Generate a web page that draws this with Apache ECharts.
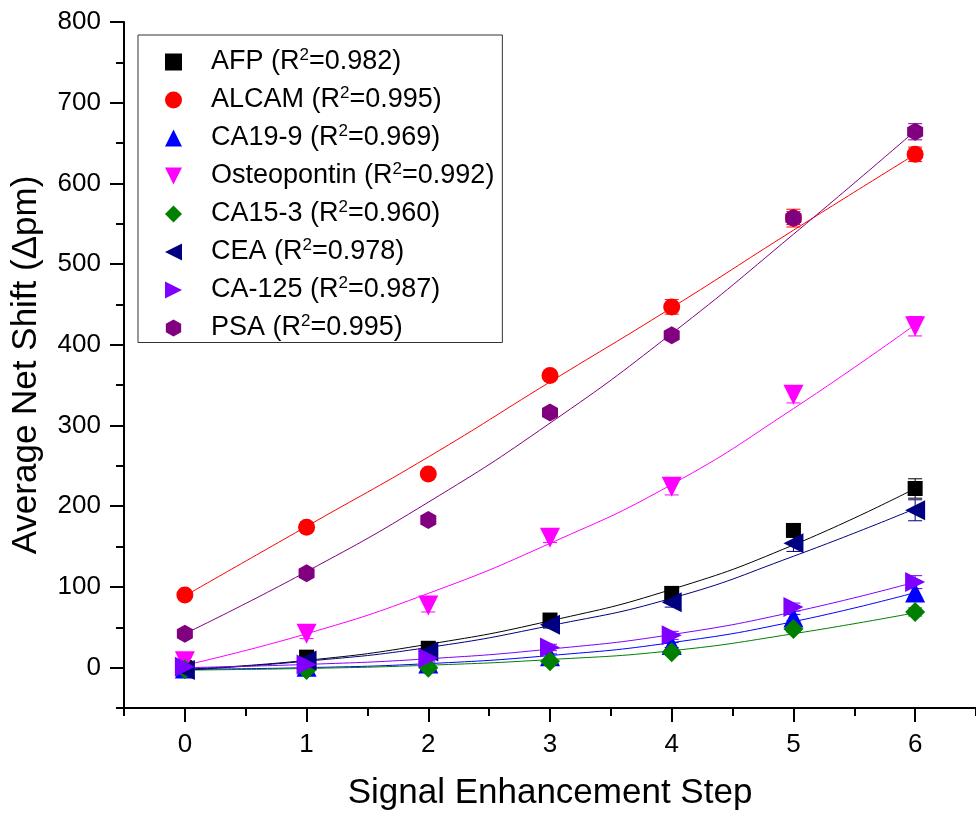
<!DOCTYPE html>
<html>
<head>
<meta charset="utf-8">
<script src="https://cdn.jsdelivr.net/npm/echarts@6/dist/echarts.min.js"></script>
<style>
  html, body { margin: 0; padding: 0; background: #ffffff; }
  #chart { width: 976px; height: 820px; }
</style>
</head>
<body>
<div id="chart"></div>
<script>
const FONT = "Liberation Sans, Arial, sans-serif";

// signal enhancement steps (x)
const steps = [0, 1, 2, 3, 4, 5, 6];
const xMajorTicks = [0, 1, 2, 3, 4, 5, 6];
const xMinorTicks = [-0.5, 0.5, 1.5, 2.5, 3.5, 4.5, 5.5, 6.5];
const yMajorTicks = [0, 100, 200, 300, 400, 500, 600, 700, 800];
const yMinorTicks = [-50, 50, 150, 250, 350, 450, 550, 650, 750];

const names = ["AFP", "ALCAM", "CA19-9", "Osteopontin", "CA15-3", "CEA", "CA-125", "PSA"];
const rSquared = ["0.982", "0.995", "0.969", "0.992", "0.960", "0.978", "0.987", "0.995"];
const colors = ["#000000", "#ff0000", "#0000ff", "#ff00ff", "#008000", "#000080", "#8000ff", "#800080"];

// measured average net shift (Δpm)
const afp = [0, 13, 24, 59, 92, 170, 222];
const alcam = [90, 174, 240, 362, 447, 557, 636];
const ca199 = [-1, 1, 5, 14, 28, 62, 93];
const osteopontin = [8, 42, 77, 161, 224, 338, 423];
const ca153 = [-2, -3, 0, 8, 19, 48, 69];
const cea = [-3, 9, 20, 53, 81, 154, 195];
const ca125 = [1, 4, 12, 25, 40, 75, 106];
const psa = [42, 117, 183, 316, 412, 557, 664];

// error bars (±)
const afpErr = [2, 3, 4, 4, 5, 6, 12];
const alcamErr = [3, 3, 4, 5, 9, 11, 9];
const ca199Err = [2, 2, 2, 3, 3, 4, 5];
const osteopontinErr = [5, 6, 8, 6, 10, 10, 12];
const ca153Err = [2, 2, 2, 3, 3, 4, 5];
const ceaErr = [2, 3, 4, 4, 6, 10, 13];
const ca125Err = [2, 3, 3, 4, 5, 5, 8];
const psaErr = [3, 4, 4, 5, 5, 8, 10];

// fitted curves read at each step
const afpFit = [-2, 9, 29, 58, 97, 152, 222];
const alcamFit = [89, 175, 261, 354, 446, 542, 636];
const ca199Fit = [-2, 0, 5, 15, 31, 57, 93];
const osteopontinFit = [3, 42, 92, 154, 227, 321, 425];
const ca153Fit = [-3, -1, 3, 10, 21, 42, 68];
const ceaFit = [-3, 8, 25, 52, 86, 138, 197];
const ca125Fit = [0, 4, 11, 23, 41, 69, 106];
const psaFit = [42, 119, 205, 303, 414, 537, 665];

const values = [afp, alcam, ca199, osteopontin, ca153, cea, ca125, psa];
const errors = [afpErr, alcamErr, ca199Err, osteopontinErr, ca153Err, ceaErr, ca125Err, psaErr];
const fits = [afpFit, alcamFit, ca199Fit, osteopontinFit, ca153Fit, ceaFit, ca125Fit, psaFit];

const symbols = [
  "rect",
  "circle",
  "triangle",
  "path://M0,0 L10,0 L5,10 Z",
  "diamond",
  "path://M0,5 L10,0 L10,10 Z",
  "path://M0,0 L10,5 L0,10 Z",
  "path://M5,0 L9.5,2.5 L9.5,7.5 L5,10 L0.5,7.5 L0.5,2.5 Z",
];
const symbolSizes = [15, 17, 20, 20, 20, 20, 20, [16, 18]];

const chart = echarts.init(document.getElementById("chart"));

function errorBarRenderer(color) {
  return function (params, api) {
    const x = api.value(0);
    const y = api.value(1);
    const e = api.value(2);
    const top = api.coord([x, y + e]);
    const bot = api.coord([x, y - e]);
    const hw = 7;
    const style = { stroke: color, lineWidth: 1 };
    return {
      type: "group",
      children: [
        { type: "line", shape: { x1: top[0], y1: top[1], x2: bot[0], y2: bot[1] }, style },
        { type: "line", shape: { x1: top[0] - hw, y1: top[1], x2: top[0] + hw, y2: top[1] }, style },
        { type: "line", shape: { x1: bot[0] - hw, y1: bot[1], x2: bot[0] + hw, y2: bot[1] }, style },
      ],
    };
  };
}

const fitSeries = [];
const errSeries = [];
const pointSeries = [];

names.forEach((name, i) => {
  fitSeries.push({
    name: name + " fit",
    type: "line",
    smooth: true,
    showSymbol: false,
    silent: true,
    lineStyle: { color: colors[i], width: 1 },
    data: steps.map((s, k) => [s, fits[i][k]]),
    z: 2,
  });
  errSeries.push({
    name: name + " err",
    type: "custom",
    renderItem: errorBarRenderer(colors[i]),
    data: steps.map((s, k) => [s, values[i][k], errors[i][k]]),
    z: 3,
  });
  pointSeries.push({
    name: name,
    type: "scatter",
    symbol: symbols[i],
    symbolSize: symbolSizes[i],
    itemStyle: { color: colors[i], opacity: 1 },
    data: steps.map((s, k) => [s, values[i][k]]),
    z: 4,
  });
});

const axisLineStyle = { show: true, onZero: false, lineStyle: { color: "#000", width: 2 } };

const option = {
  backgroundColor: "#ffffff",
  animation: false,
  textStyle: { fontFamily: FONT },
  grid: { left: 124, right: 0, top: 22, bottom: 112, containLabel: false },
  legend: {
    orient: "vertical",
    left: 138,
    top: 35,
    data: names,
    itemWidth: 17,
    itemHeight: 17,
    itemGap: 9.5,
    padding: [12, 8, 1, 27],
    borderColor: "#333",
    borderWidth: 1,
    selectedMode: false,
    symbolKeepAspect: true,
    formatter: (name) => `{g|}{n|${name} (R}{s|2}{n|=${rSquared[names.indexOf(name)]})}`,
    textStyle: {
      fontFamily: FONT,
      color: "#000",
      rich: {
        g: { width: 24 },
        n: { fontSize: 27, fontFamily: FONT, color: "#000", lineHeight: 29 },
        s: { fontSize: 17, fontFamily: FONT, color: "#000", padding: [0, 0, 13, 0] },
      },
    },
  },
  xAxis: [
    {
      type: "value",
      min: -0.5,
      max: 6.5,
      position: "bottom",
      axisLine: axisLineStyle,
      splitLine: { show: false },
      name: "Signal Enhancement Step",
      nameLocation: "middle",
      nameGap: 68,
      nameTextStyle: { fontSize: 35, fontFamily: FONT, color: "#000" },
      axisTick: { show: true, length: 14, lineStyle: { color: "#000", width: 2 }, customValues: xMajorTicks },
      axisLabel: { show: true, fontSize: 26, color: "#000", margin: 24, customValues: xMajorTicks },
    },
    {
      type: "value",
      min: -0.5,
      max: 6.5,
      position: "bottom",
      axisLine: { show: false, onZero: false },
      splitLine: { show: false },
      axisTick: { show: true, length: 8, lineStyle: { color: "#000", width: 2 }, customValues: xMinorTicks },
      axisLabel: { show: false },
    },
  ],
  yAxis: [
    {
      type: "value",
      min: -50,
      max: 800,
      position: "left",
      axisLine: axisLineStyle,
      splitLine: { show: false },
      name: "Average Net Shift (Δpm)",
      nameLocation: "middle",
      nameGap: 80,
      nameTextStyle: { fontSize: 35, fontFamily: FONT, color: "#000" },
      axisTick: { show: true, length: 14, lineStyle: { color: "#000", width: 2 }, customValues: yMajorTicks },
      axisLabel: { show: true, fontSize: 26, color: "#000", margin: 23, customValues: yMajorTicks },
    },
    {
      type: "value",
      min: -50,
      max: 800,
      position: "left",
      axisLine: { show: false, onZero: false },
      splitLine: { show: false },
      axisTick: { show: true, length: 8, lineStyle: { color: "#000", width: 2 }, customValues: yMinorTicks },
      axisLabel: { show: false },
    },
  ],
  series: [...fitSeries, ...errSeries, ...pointSeries],
};

chart.setOption(option);
</script>
</body>
</html>
